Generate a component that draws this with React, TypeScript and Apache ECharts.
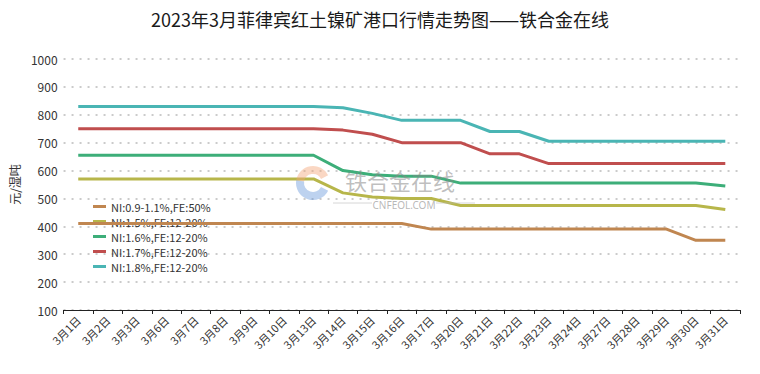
import React, { useEffect, useRef } from "react";
import * as echarts from "echarts";

const categories = ["3月1日","3月2日","3月3日","3月6日","3月7日","3月8日","3月9日","3月10日","3月13日","3月14日","3月15日","3月16日","3月17日","3月20日","3月21日","3月22日","3月23日","3月24日","3月27日","3月28日","3月29日","3月30日","3月31日"];

const seriesNames = ["NI:0.9-1.1%,FE:50%","NI:1.5%,FE:12-20%","NI:1.6%,FE:12-20%","NI:1.7%,FE:12-20%","NI:1.8%,FE:12-20%"];

const ni09 = [410,410,410,410,410,410,410,410,410,410,410,410,390,390,390,390,390,390,390,390,390,350,350];
const ni15 = [570,570,570,570,570,570,570,570,570,520,505,500,500,475,475,475,475,475,475,475,475,475,460];
const ni16 = [655,655,655,655,655,655,655,655,655,600,585,580,580,555,555,555,555,555,555,555,555,555,545];
const ni17 = [750,750,750,750,750,750,750,750,750,745,730,700,700,700,660,660,625,625,625,625,625,625,625];
const ni18 = [830,830,830,830,830,830,830,830,830,825,805,780,780,780,740,740,705,705,705,705,705,705,705];

const seriesData = [ni09, ni15, ni16, ni17, ni18];
const colors = ["#C08650", "#B7B64A", "#3DAE79", "#C04E4E", "#4AB5B4"];

const yTicks = { min: 100, max: 1000, interval: 100 };

export default function App() {
  const ref = useRef<HTMLDivElement>(null);
  useEffect(() => {
    document.body.style.margin = "0";
    if (!ref.current) return;
    const chart = echarts.init(ref.current, null, { renderer: "svg" });
    const font = "'Noto Sans CJK SC', 'Noto Sans', sans-serif";
    chart.setOption({
      animation: false,
      textStyle: { fontFamily: font },
      title: {
        text: "2023年3月菲律宾红土镍矿港口行情走势图——铁合金在线",
        left: "center",
        top: 5,
        textStyle: { fontSize: 18, fontWeight: "normal", color: "#1a1a1a", fontFamily: font },
      },
      legend: {
        orient: "vertical",
        left: 88,
        top: 196,
        itemGap: 4,
        itemWidth: 13,
        itemHeight: 3,
        icon: "rect",
        z: 1,
        data: seriesNames,
        textStyle: { fontSize: 11, lineHeight: 11, color: "#333", fontFamily: font },
      },
      grid: { left: 63, right: 20, top: 59, bottom: 64 },
      xAxis: {
        type: "category",
        data: categories,
        boundaryGap: true,
        axisLine: { lineStyle: { color: "#222", width: 1 } },
        axisTick: { show: true, alignWithLabel: false, length: 4, lineStyle: { color: "#222" } },
        axisLabel: { rotate: 45, fontSize: 11, color: "#333", interval: 0, margin: 8 },
      },
      yAxis: {
        type: "value",
        min: yTicks.min,
        max: yTicks.max,
        interval: yTicks.interval,
        name: "元/湿吨",
        nameLocation: "middle",
        nameGap: 42,
        nameRotate: 90,
        nameTextStyle: { fontSize: 12, color: "#333" },
        axisLine: { show: false },
        axisTick: { show: false },
        axisLabel: { fontSize: 12, color: "#333", margin: 6, formatter: (v: number) => String(v) },
        splitLine: { lineStyle: { color: "#bbb", type: [2, 6], width: 1.5 } },
      },
      series: seriesData.map((d, i) => ({
        name: seriesNames[i],
        type: "line",
        data: d,
        symbol: "none",
        z: 3,
        lineStyle: { color: colors[i], width: 3 },
        itemStyle: { color: colors[i] },
      })),
      graphic: [
        {
          type: "arc",
          shape: { cx: 313, cy: 183, r: 13, startAngle: Math.PI * 1.05, endAngle: Math.PI * 1.85 },
          style: { stroke: "#F4A77A", lineWidth: 8, fill: "none", opacity: 0.45 },
          z: 10,
        },
        {
          type: "arc",
          shape: { cx: 313, cy: 183, r: 13, startAngle: Math.PI * 0.15, endAngle: Math.PI * 1.05 },
          style: { stroke: "#5B8FD6", lineWidth: 8, fill: "none", opacity: 0.4 },
          z: 10,
        },
        {
          type: "text",
          x: 345,
          y: 180,
          style: { text: "铁合金在线", font: "22px 'Noto Sans CJK SC'", lineHeight: 22, fill: "#888", opacity: 0.55, textVerticalAlign: "middle" },
          z: 10,
        },
        {
          type: "line",
          shape: { x1: 333, y1: 203, x2: 372, y2: 203 },
          style: { stroke: "#bbb", lineWidth: 1, opacity: 0.6 },
          z: 10,
        },
        {
          type: "text",
          x: 404,
          y: 205,
          style: { text: "CNFEOL.COM", font: "10px 'Noto Sans'", lineHeight: 10, fill: "#999", opacity: 0.7, textAlign: "center", textVerticalAlign: "middle" },
          z: 10,
        },
        {
          type: "line",
          shape: { x1: 436, y1: 203, x2: 475, y2: 203 },
          style: { stroke: "#bbb", lineWidth: 1, opacity: 0.6 },
          z: 10,
        },
      ],
    });
    return () => chart.dispose();
  }, []);
  return <div ref={ref} style={{ width: 760, height: 374 }} />;
}
